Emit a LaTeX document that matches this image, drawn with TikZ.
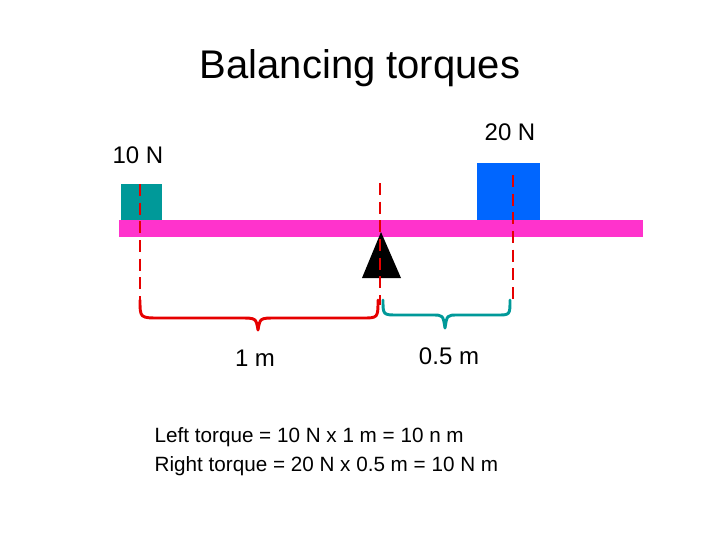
\documentclass[tikz,border=0pt]{standalone}
\usepackage{fontspec}
\setmainfont{Liberation Sans}
\begin{document}
\begin{tikzpicture}[x=0.75pt,y=-0.75pt]
\definecolor{tealc}{RGB}{0,153,153}
\definecolor{bluec}{RGB}{0,102,255}
\definecolor{pinkc}{RGB}{255,51,204}
\definecolor{redc}{RGB}{230,0,0}
\tikzset{dashline/.style={redc,line width=2.2pt,dash pattern=on 9pt off 5pt},
 lbl/.style={font=\fontsize{18}{20}\selectfont},
 brace/.style={line width=2.2pt,line cap=round,line join=round}}
\useasboundingbox (0,0) rectangle (720,540);
\node (title) at (360,68) {\fontsize{30}{34}\selectfont Balancing torques};
\node[lbl] (ln) at (138,155) {10 N};
\node[lbl] (rn) at (510,132) {20 N};
\fill[tealc] (121,184) rectangle (162,221);
\fill[bluec] (477,163) rectangle (540,221);
\fill[pinkc] (119,220) rectangle (643,237);
\fill[black] (381,232) -- (401,278) -- (362,278) -- cycle;
\draw[dashline] (140,184) -- (140,305);
\draw[dashline] (380,183) -- (380,305);
\draw[dashline] (513,175) -- (513,300);
\draw[brace,redc] (140,300) .. controls (140,318) .. (160,318) -- (240,318) .. controls (256,318) .. (258,330) .. controls (260,318) .. (276,318) -- (362,318) .. controls (378,318) .. (378,300);
\draw[brace,tealc] (383,300) .. controls (383,315) .. (398,315) -- (432,315) .. controls (443,315) .. (445,328) .. controls (447,315) .. (458,315) -- (497,315) .. controls (510,315) .. (510,300);
\node[lbl] (one) at (255,358) {1 m};
\node[lbl] (half) at (449,356) {0.5 m};
\node[anchor=west,font=\fontsize{15.5}{17}\selectfont] (l1) at (150,437) {Left torque = 10 N x 1 m = 10 n m};
\node[anchor=west,font=\fontsize{15.5}{17}\selectfont] (l2) at (150,466) {Right torque = 20 N x 0.5 m = 10 N m};
\end{tikzpicture}
\end{document}
